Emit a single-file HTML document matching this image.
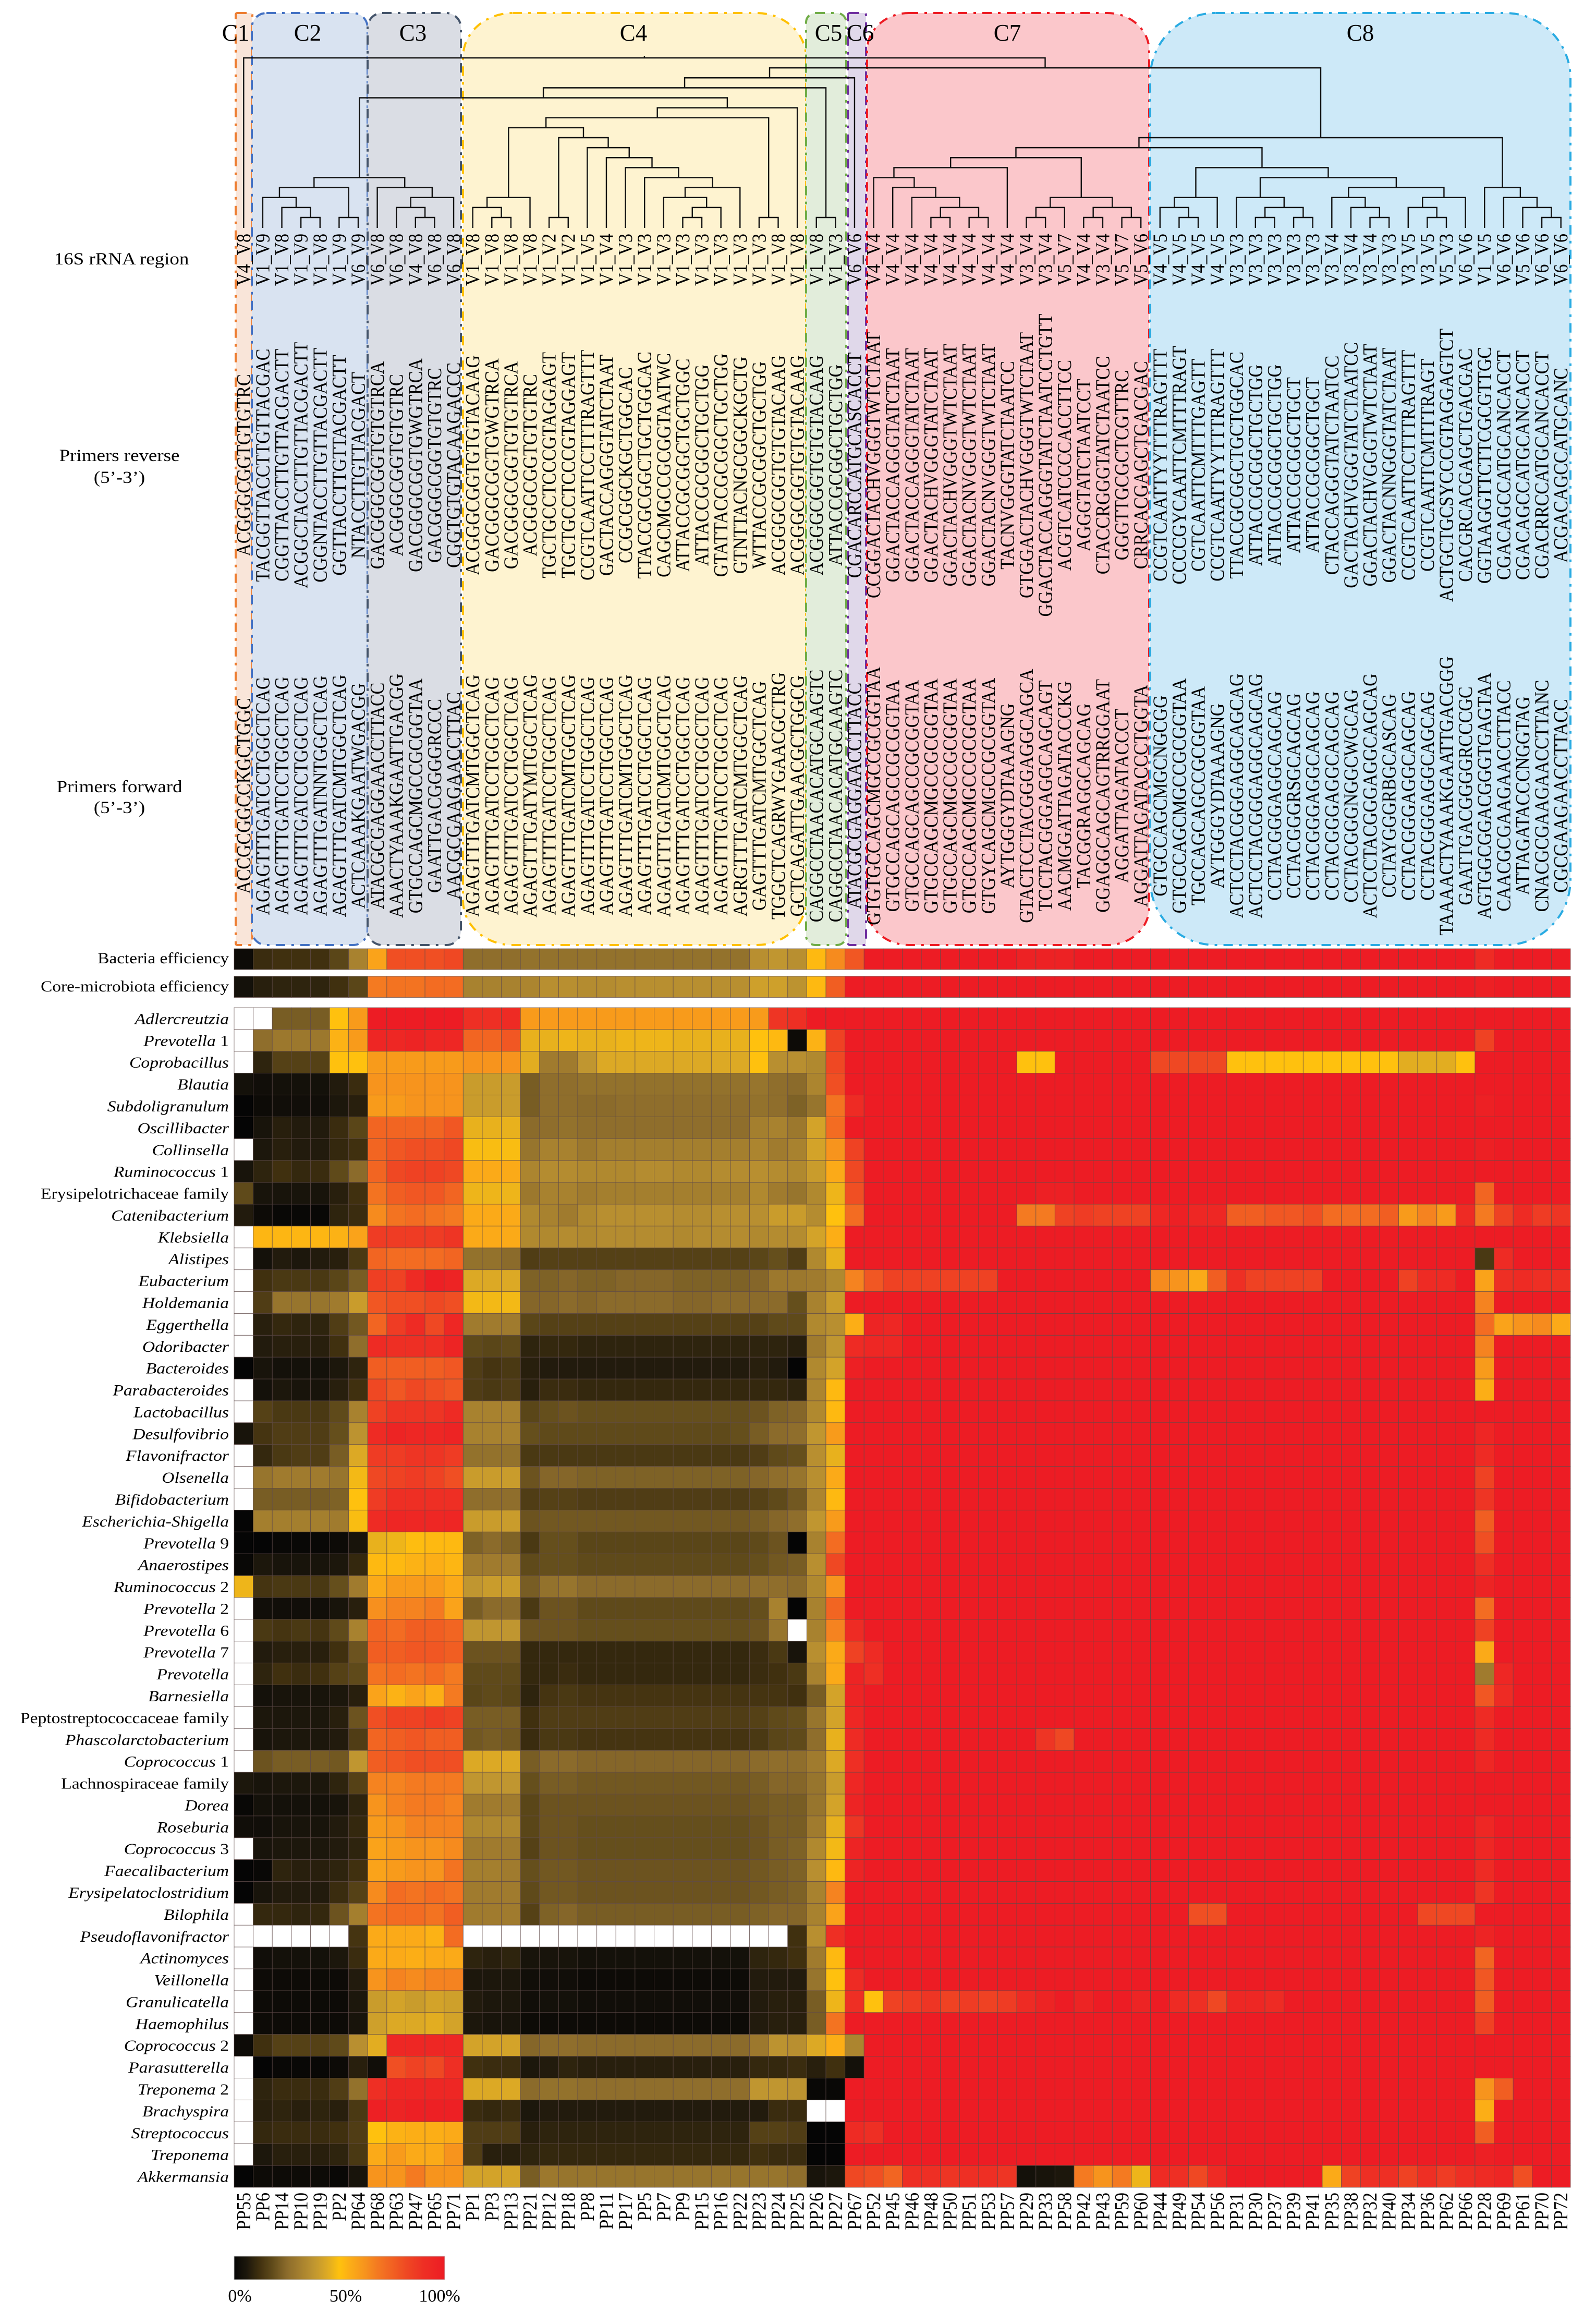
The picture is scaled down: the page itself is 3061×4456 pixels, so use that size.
<!DOCTYPE html>
<html lang="en">
<head>
<meta charset="utf-8">
<title>16S rRNA primer pair clustering heatmap</title>
<style>
html,body{margin:0;padding:0;background:#fff;width:3061px;height:4456px;overflow:hidden}
svg{display:block}
text{font-family:"Liberation Serif","Times New Roman",serif;fill:#000}
</style>
</head>
<body>
<svg id="chart" xmlns="http://www.w3.org/2000/svg" width="3061" height="4456" viewBox="0 0 3061 4456">
  <rect x="0" y="0" width="3061" height="4456" fill="#ffffff"/>
  <g stroke-width="4" stroke="#ffffff" fill="none">
    <rect x="452" y="25" width="32" height="1787" rx="3" ry="3"/>
    <rect x="483" y="25" width="222" height="1787" rx="28" ry="28"/>
    <rect x="705" y="25" width="179" height="1787" rx="28" ry="28"/>
    <rect x="888" y="25" width="658" height="1787" rx="95" ry="85"/>
    <rect x="1546" y="25" width="77" height="1787" rx="18" ry="18"/>
    <rect x="1626" y="25" width="35" height="1787" rx="4" ry="4"/>
    <rect x="1663" y="25" width="541" height="1787" rx="80" ry="72"/>
    <rect x="2206" y="25" width="806" height="1787" rx="125" ry="125"/>
  </g>
  <g stroke-width="4" stroke-dasharray="18 12 5 12">
    <rect x="452" y="25" width="32" height="1787" rx="3" ry="3" fill="#F9E5D9" stroke="#ED7D31"/>
    <rect x="483" y="25" width="222" height="1787" rx="28" ry="28" fill="#D9E3F1" stroke="#4472C4"/>
    <rect x="705" y="25" width="179" height="1787" rx="28" ry="28" fill="#DADDE4" stroke="#44546A"/>
    <rect x="888" y="25" width="658" height="1787" rx="95" ry="85" fill="#FEF3D0" stroke="#FFC000"/>
    <rect x="1546" y="25" width="77" height="1787" rx="18" ry="18" fill="#E2EDDB" stroke="#70AD47"/>
    <rect x="1626" y="25" width="35" height="1787" rx="4" ry="4" fill="#E0D8EA" stroke="#7030A0"/>
    <rect x="1663" y="25" width="541" height="1787" rx="80" ry="72" fill="#FBC7CB" stroke="#ED1C24"/>
    <rect x="2206" y="25" width="806" height="1787" rx="125" ry="125" fill="#CDE9F8" stroke="#29ABE2"/>
  </g>
  <g font-size="45" text-anchor="middle">
    <text x="452" y="78">C1</text>
    <text x="590" y="78">C2</text>
    <text x="792" y="78">C3</text>
    <text x="1215" y="78">C4</text>
    <text x="1589" y="78">C5</text>
    <text x="1650" y="78">C6</text>
    <text x="1932" y="78">C7</text>
    <text x="2609" y="78">C8</text>
  </g>
  <g id="dendrogram" fill="none" stroke="#111" stroke-width="2.4"></g>
  <g font-size="33" text-anchor="middle">
    <text transform="translate(233,507) scale(1.12,1)">16S rRNA region</text>
    <text transform="translate(229,884) scale(1.12,1)">Primers reverse</text>
    <text transform="translate(229,926) scale(1.12,1)">(5’-3’)</text>
    <text transform="translate(229,1519) scale(1.12,1)">Primers forward</text>
    <text transform="translate(229,1559) scale(1.12,1)">(5’-3’)</text>
  </g>
  <g font-size="30" text-anchor="end">
    <text transform="translate(439,1847) scale(1.11,1)">Bacteria efficiency</text>
    <text transform="translate(439,1901) scale(1.11,1)">Core-microbiota efficiency</text>
  </g>
  <g id="regionText"></g>
  <g id="reverseText"></g>
  <g id="forwardText"></g>
  <g id="efficiency"></g>
  <g id="heatmap"></g>
  <g id="rowText"></g>
  <g id="colText"></g>
  <defs>
    <linearGradient id="legendGradient" x1="0" y1="0" x2="1" y2="0"></linearGradient>
  </defs>
  <g>
    <rect x="449" y="4326" width="404" height="45" fill="url(#legendGradient)" stroke="#bbb" stroke-width="1"/>
    <text x="460" y="4413" font-size="34" text-anchor="middle">0%</text>
    <text x="663" y="4413" font-size="34" text-anchor="middle">50%</text>
    <text x="843" y="4413" font-size="34" text-anchor="middle">100%</text>
  </g>
</svg>
<script>
const N = null;

const columnLabels = ["PP55","PP6","PP14","PP10","PP19","PP2","PP64","PP68","PP63","PP47","PP65","PP71","PP1","PP3","PP13","PP21","PP12","PP18","PP8","PP11","PP17","PP5","PP7","PP9","PP15","PP16","PP22","PP23","PP24","PP25","PP26","PP27","PP67","PP52","PP45","PP46","PP48","PP50","PP51","PP53","PP57","PP29","PP33","PP58","PP42","PP43","PP59","PP60","PP44","PP49","PP54","PP56","PP31","PP30","PP37","PP39","PP41","PP35","PP38","PP32","PP40","PP34","PP36","PP62","PP66","PP28","PP69","PP61","PP70","PP72"];

const regionLabels = ["V4_V8","V1_V9","V1_V8","V1_V9","V1_V8","V1_V9","V6_V9","V6_V8","V6_V8","V4_V8","V6_V8","V6_V8","V1_V8","V1_V8","V1_V8","V1_V8","V1_V2","V1_V2","V1_V5","V1_V4","V1_V3","V1_V3","V1_V3","V1_V3","V1_V3","V1_V3","V1_V3","V1_V3","V1_V8","V1_V8","V1_V8","V1_V3","V6_V6","V4_V4","V4_V4","V4_V4","V4_V4","V4_V4","V4_V4","V4_V4","V4_V4","V3_V4","V3_V4","V5_V7","V4_V4","V3_V4","V5_V7","V5_V6","V4_V5","V4_V5","V4_V5","V4_V5","V3_V3","V3_V3","V3_V3","V3_V3","V3_V3","V3_V4","V3_V4","V3_V4","V3_V3","V3_V5","V3_V5","V5_V3","V6_V6","V1_V5","V6_V6","V5_V6","V6_V6","V6_V6"];

const primersReverse = ["ACGGGCGGTGTGTRC","TACGGTTACCTTGTTACGAC","CGGTTACCTTGTTACGACTT","ACGGCTACCTTGTTACGACTT","CGGNTACCTTGTTACGACTT","GGTTACCTTGTTACGACTT","NTACCTTGTTACGACT","GACGGGCGGTGTGTRCA","ACGGGCGGTGTGTRC","GACGGGCGGTGWGTRCA","GACGGGCGGTGTGTRC","CGGTGTGTACAAGACCC","ACGGGCGGTGTGTACAAG","GACGGGCGGTGWGTRCA","GACGGGCGGTGTGTRCA","ACGGGCGGTGTGTRC","TGCTGCCTCCCGTAGGAGT","TGCTGCCTCCCGTAGGAGT","CCGTCAATTCCTTTRAGTTT","GACTACCAGGGTATCTAAT","CCGCGGCKGCTGGCAC","TTACCGCGGCTGCTGGCAC","CAGCMGCCGCGGTAATWC","ATTACCGCGGCTGCTGGC","ATTACCGCGGCTGCTGG","GTATTACCGCGGCTGCTGG","GTNTTACNGCGGCKGCTG","WTTACCGCGGCTGCTGG","ACGGGCGGTGTGTACAAG","ACGGGCGGTGTGTACAAG","ACGGGCGGTGTGTACAAG","ATTACCGCGGCTGCTGG","CGACARCCATGCASCACCT","CCGGACTACHVGGGTWTCTAAT","GGACTACCAGGGTATCTAAT","GGACTACCAGGGTATCTAAT","GGACTACHVGGGTATCTAAT","GGACTACHVGGGTWTCTAAT","GGACTACNVGGGTWTCTAAT","GGACTACNVGGGTWTCTAAT","TACNVGGGTATCTAATCC","GTGGACTACHVGGGTWTCTAAT","GGACTACCAGGGTATCTAATCCTGTT","ACGTCATCCCCACCTTCC","AGGGTATCTAATCCT","CTACCRGGGTATCTAATCC","GGGTTGCGCTCGTTRC","CRRCACGAGCTGACGAC","CCGTCAATTYYTTTRAGTTT","CCCCGYCAATTCMTTTRAGT","CGTCAATTCMTTTGAGTT","CCGTCAATTYYTTTRAGTTT","TTACCGCGGCTGCTGGCAC","ATTACCGCGGCTGCTGG","ATTACCGCGGCTGCTGG","ATTACCGCGGCTGCT","ATTACCGCGGCTGCT","CTACCAGGGTATCTAATCC","GACTACHVGGGTATCTAATCC","GGACTACHVGGGTWTCTAAT","GGACTACNNGGGTATCTAAT","CCGTCAATTCCTTTRAGTTT","CCGTCAATTCMTTTRAGT","ACTGCTGCSYCCCGTAGGAGTCT","CACGRCACGAGCTGACGAC","GGTAAGGTTCTTCGCGTTGC","CGACAGCCATGCANCACCT","CGACAGCCATGCANCACCT","CGACRRCCATGCANCACCT","ACGACAGCCATGCANC"];

const primersForward = ["ACCGCGGCCKGCTGGC","AGAGTTTGATCCTGGCTCAG","AGAGTTTGATCCTGGCTCAG","AGAGTTTGATCCTGGCTCAG","AGAGTTTGATNNTGGCTCAG","AGAGTTTGATCMTGGCTCAG","ACTCAAAKGAATWGACGG","ATACGCGAGGAACCTTACC","AAACTYAAAKGAATTGACGG","GTGCCAGCMGCCGCGGTAA","GAATTGACGGGGRCCC","AACGCGAAGAACCTTAC","AGAGTTTGATCMTGGCTCAG","AGAGTTTGATCCTGGCTCAG","AGAGTTTGATCCTGGCTCAG","AGAGTTTGATYMTGGCTCAG","AGAGTTTGATCCTGGCTCAG","AGAGTTTGATCMTGGCTCAG","AGAGTTTGATCCTGGCTCAG","AGAGTTTGATCCTGGCTCAG","AGAGTTTGATCMTGGCTCAG","AGAGTTTGATCCTGGCTCAG","AGAGTTTGATCMTGGCTCAG","AGAGTTTGATCCTGGCTCAG","AGAGTTTGATCCTGGCTCAG","AGAGTTTGATCCTGGCTCAG","AGRGTTTGATCMTGGCTCAG","GAGTTTGATCMTGGCTCAG","TGGCTCAGRWYGAACGCTRG","GCTCAGATTGAACGCTGGCG","CAGGCCTAACACATGCAAGTC","CAGGCCTAACACATGCAAGTC","ATACGCGAGGAACCTTACC","GTGTGCCAGCMGCCGCGGTAA","GTGCCAGCAGCCGCGGTAA","GTGCCAGCAGCCGCGGTAA","GTGCCAGCMGCCGCGGTAA","GTGCCAGCMGCCGCGGTAA","GTGCCAGCMGCCGCGGTAA","GTGYCAGCMGCCGCGGTAA","AYTGGGYDTAAAGNG","GTACTCCTACGGGAGGCAGCA","TCCTACGGGAGGCAGCAGT","AACMGGATTAGATACCCKG","TACGGRAGGCAGCAG","GGAGGCAGCAGTRRGGAAT","AGGATTAGATACCCT","AGGATTAGATACCCTGGTA","GTGCCAGCMGCNGCGG","GTGCCAGCMGCCGCGGTAA","TGCCAGCAGCCGCGGTAA","AYTGGGYDTAAAGNG","ACTCCTACGGGAGGCAGCAG","ACTCCTACGGGAGGCAGCAG","CCTACGGGAGGCAGCAG","CCTACGGGRSGCAGCAG","CCTACGGGAGGCAGCAG","CCTACGGGAGGCAGCAG","CCTACGGGNGGCWGCAG","ACTCCTACGGGAGGCAGCAG","CCTAYGGGRBGCASCAG","CCTACGGGAGGCAGCAG","CCTACGGGAGGCAGCAG","TAAAACTYAAAKGAATTGACGGG","GAATTGACGGGGRCCCGC","AGTGGCGGACGGGTGAGTAA","CAACGCGAAGAACCTTACC","ATTAGATACCCNGGTAG","CNACGCGAAGAACCTTANC","CGCGAAGAACCTTACC"];

const rowLabels = ["Adlercreutzia","Prevotella 1","Coprobacillus","Blautia","Subdoligranulum","Oscillibacter","Collinsella","Ruminococcus 1","Erysipelotrichaceae family","Catenibacterium","Klebsiella","Alistipes","Eubacterium","Holdemania","Eggerthella","Odoribacter","Bacteroides","Parabacteroides","Lactobacillus","Desulfovibrio","Flavonifractor","Olsenella","Bifidobacterium","Escherichia-Shigella","Prevotella 9","Anaerostipes","Ruminococcus 2","Prevotella 2","Prevotella 6","Prevotella 7","Prevotella","Barnesiella","Peptostreptococcaceae family","Phascolarctobacterium","Coprococcus 1","Lachnospiraceae family","Dorea","Roseburia","Coprococcus 3","Faecalibacterium","Erysipelatoclostridium","Bilophila","Pseudoflavonifractor","Actinomyces","Veillonella","Granulicatella","Haemophilus","Coprococcus 2","Parasutterella","Treponema 2","Brachyspira","Streptococcus","Treponema","Akkermansia"];

const bacteriaEfficiency = [2,11,12,12,12,17,32,58,80,80,80,82,26,26,26,27,27,27,27,27,27,27,27,27,27,27,27,36,38,36,52,64,78,100,100,100,100,100,100,100,100,97,97,97,100,100,100,100,100,100,100,100,100,100,100,100,100,100,100,100,100,100,100,100,100,92,100,100,100,100];

const coreEfficiency = [4,8,9,9,9,12,17,68,70,70,72,72,32,32,32,33,36,36,35,35,36,36,36,36,36,36,36,41,41,37,52,76,100,100,100,100,100,100,100,100,100,100,100,100,100,100,100,100,100,100,100,100,100,100,100,100,100,100,100,100,100,100,100,100,100,98,100,100,100,100];

const heatValues = [
[N,N,22,22,22,50,60,100,100,100,100,100,90,90,92,60,60,60,60,60,60,60,60,60,60,60,60,60,88,90,100,100,100,100,100,100,100,100,100,100,100,100,100,100,100,100,100,100,100,100,100,100,100,100,100,100,100,100,100,100,100,100,100,100,100,100,100,100,100,100],
[N,26,29,29,29,54,60,95,94,96,94,94,74,74,78,46,46,47,46,46,47,47,47,46,46,46,46,50,52,2,54,84,100,100,100,100,100,100,100,100,100,100,100,100,100,100,100,100,100,100,100,100,100,100,100,100,100,100,100,100,100,100,100,100,100,84,100,100,100,100],
[N,9,16,16,16,50,50,60,60,60,60,60,62,62,62,45,30,30,38,44,44,44,44,44,44,44,44,50,36,36,34,82,100,100,100,100,100,100,100,100,100,50,50,100,100,100,100,100,82,82,82,82,50,50,50,50,50,50,50,50,50,45,45,45,50,100,100,100,100,100],
[4,3,4,4,4,7,11,62,62,62,62,62,40,40,40,22,26,26,27,27,27,27,27,27,27,27,27,28,26,25,33,80,100,100,100,100,100,100,100,100,100,100,100,100,100,100,100,100,100,100,100,100,100,100,100,100,100,100,100,100,100,100,100,100,100,100,100,100,100,100],
[0,2,3,3,3,6,8,60,60,62,62,62,40,40,40,22,26,26,25,25,26,26,26,26,26,26,26,27,26,23,28,70,92,100,100,100,100,100,100,100,100,100,100,100,100,100,100,100,100,100,100,100,100,100,100,100,100,100,100,100,100,100,100,100,100,98,100,100,100,100],
[0,5,8,7,7,11,17,74,74,74,74,78,46,46,46,25,26,27,26,26,26,26,26,26,26,26,26,31,32,29,42,72,100,100,100,100,100,100,100,100,100,100,100,100,100,100,100,100,100,100,100,100,100,100,100,100,100,100,100,100,100,100,100,100,100,100,100,100,100,100],
[N,6,8,7,7,10,12,74,78,80,80,82,49,49,49,28,32,32,29,31,31,31,31,31,31,31,31,33,30,32,42,62,84,100,100,100,100,100,100,100,100,100,100,100,100,100,100,100,100,100,100,100,100,100,100,100,100,100,100,100,100,100,100,100,100,98,100,100,100,100],
[5,9,12,10,11,18,25,74,82,84,84,82,56,56,56,33,35,35,34,34,34,35,35,34,34,35,35,36,35,34,40,56,82,100,100,100,100,100,100,100,100,100,100,100,100,100,100,100,100,100,100,100,100,100,100,100,100,100,100,100,100,100,100,100,100,100,100,100,100,100],
[18,5,5,5,5,8,12,70,76,78,78,74,47,47,47,29,32,32,30,31,31,31,31,31,31,31,31,34,30,28,34,47,80,100,100,100,100,100,100,100,100,100,98,98,100,100,100,100,100,100,100,100,100,100,100,100,100,100,100,100,100,100,100,100,100,74,100,100,100,100],
[7,2,1,1,1,9,11,64,70,72,70,68,56,56,56,34,32,30,34,36,36,36,36,35,35,36,36,36,40,40,35,50,72,100,100,100,100,100,100,100,100,68,68,84,86,84,84,84,94,98,94,94,76,76,78,78,80,72,72,72,76,60,66,60,92,68,84,92,86,88],
[N,53,53,53,53,54,58,86,86,86,86,88,56,56,56,34,34,35,34,35,35,35,35,34,35,35,35,34,35,35,42,55,100,100,100,100,100,100,100,100,100,100,100,100,100,100,100,100,100,100,100,100,100,100,100,100,100,100,100,100,100,100,100,100,100,100,100,100,100,100],
[N,4,7,6,7,8,14,74,72,72,72,74,27,27,25,15,16,16,16,16,16,16,16,16,16,16,16,17,19,15,34,46,100,100,100,100,100,100,100,100,100,100,100,100,100,100,100,100,100,100,100,100,100,100,100,100,100,100,100,100,100,100,100,100,100,14,92,100,100,100],
[N,12,14,14,14,17,22,85,84,92,98,96,44,44,44,23,23,24,23,23,24,24,24,23,23,23,23,24,29,29,30,34,66,78,84,84,84,84,84,84,100,100,100,100,100,100,100,100,64,62,56,76,90,84,84,84,84,100,100,100,100,84,92,92,100,58,90,92,90,90],
[N,15,28,28,28,30,40,78,80,80,82,80,48,48,48,24,24,25,24,25,25,25,25,24,24,25,25,25,25,19,32,40,100,100,100,100,100,100,100,100,100,100,100,100,100,100,100,100,100,100,100,100,100,100,100,100,100,100,100,100,100,100,100,100,100,66,100,100,100,100],
[N,8,10,9,9,15,21,74,86,92,82,94,30,30,30,17,16,16,16,16,16,16,16,16,16,16,16,16,18,18,34,36,55,96,94,100,100,100,100,100,100,100,100,100,100,100,100,100,100,100,100,100,100,100,100,100,100,100,100,100,100,100,100,100,100,72,58,62,64,56],
[N,7,8,8,8,12,26,92,90,90,90,96,18,17,18,9,10,10,9,9,9,9,9,9,9,9,9,9,9,8,30,38,92,94,94,100,100,100,100,100,100,100,100,100,100,100,100,100,100,100,100,100,100,100,100,100,100,100,100,100,100,100,100,100,100,66,100,100,100,100],
[0,5,4,4,4,6,9,76,76,76,76,78,15,13,14,8,7,7,7,7,7,7,7,7,7,7,7,8,7,0,34,42,98,100,100,100,100,100,100,100,100,100,100,100,100,100,100,100,100,100,100,100,100,100,100,100,100,100,100,100,100,100,100,100,100,60,100,100,100,100],
[N,4,6,5,5,8,12,82,78,82,80,78,15,14,15,8,11,11,10,10,10,10,10,10,10,10,10,10,10,9,33,52,100,100,100,100,100,100,100,100,100,100,100,100,100,100,100,100,100,100,100,100,100,100,100,100,100,100,100,100,100,100,100,100,100,55,100,100,100,100],
[N,16,14,14,14,18,32,84,88,88,88,92,32,32,32,17,19,20,19,19,19,19,19,19,19,19,19,20,23,24,34,52,100,100,100,100,100,100,100,100,100,100,100,100,100,100,100,100,100,100,100,100,100,100,100,100,100,100,100,100,100,100,100,100,100,100,100,100,100,100],
[5,13,15,15,15,19,37,92,96,94,94,96,32,32,32,19,18,18,18,18,18,18,18,18,18,18,19,22,25,26,38,60,100,100,100,100,100,100,100,100,100,100,100,100,100,100,100,100,100,100,100,100,100,100,100,100,100,100,100,100,100,100,100,100,100,95,100,100,100,100],
[N,10,14,15,15,22,44,86,86,88,88,86,27,27,27,14,14,14,14,14,14,14,14,14,14,14,14,15,18,19,36,46,100,100,100,100,100,100,100,100,100,100,100,100,100,100,100,100,100,100,100,100,100,100,100,100,100,100,100,100,100,100,100,100,100,92,100,100,100,100],
[N,28,30,30,30,28,48,82,84,86,84,80,40,40,40,20,24,24,23,23,23,23,23,23,23,23,23,24,26,28,36,56,100,100,100,100,100,100,100,100,100,100,100,100,100,100,100,100,100,100,100,100,100,100,100,100,100,100,100,100,100,100,100,100,100,84,100,100,100,100],
[N,22,22,22,22,23,50,86,90,90,90,90,26,26,26,15,16,16,15,15,15,15,15,15,15,15,15,16,18,21,33,52,100,100,100,100,100,100,100,100,100,100,100,100,100,100,100,100,100,100,100,100,100,100,100,100,100,100,100,100,100,100,100,100,100,88,100,100,100,100],
[0,31,31,31,31,30,49,92,95,94,94,95,40,40,40,20,21,21,21,21,21,21,21,21,21,21,21,22,24,26,38,60,100,100,100,100,100,100,100,100,100,100,100,100,100,100,100,100,100,100,100,100,100,100,100,100,100,100,100,100,100,100,100,100,100,76,100,100,100,100],
[0,0,1,1,1,2,5,46,47,51,52,52,23,25,23,14,19,19,17,17,17,17,17,17,17,17,17,18,20,0,32,72,100,100,100,100,100,100,100,100,100,100,100,100,100,100,100,100,100,100,100,100,100,100,100,100,100,100,100,100,100,100,100,100,100,80,100,100,100,100],
[1,6,5,5,5,6,10,52,52,54,55,53,30,30,30,18,19,19,18,18,18,18,18,18,18,18,18,19,21,22,36,82,100,100,100,100,100,100,100,100,100,100,100,100,100,100,100,100,100,100,100,100,100,100,100,100,100,100,100,100,100,100,100,100,100,90,100,100,100,100],
[47,13,14,14,14,19,30,56,60,60,60,56,38,40,40,22,27,28,25,25,25,25,25,25,25,25,25,26,26,25,34,62,100,100,100,100,100,100,100,100,100,100,100,100,100,100,100,100,100,100,100,100,100,100,100,100,100,100,100,100,100,100,100,100,100,96,100,100,100,100],
[N,3,3,3,3,5,8,63,66,66,68,58,22,25,25,14,20,20,18,18,18,18,18,18,18,18,18,19,32,0,32,74,100,100,100,100,100,100,100,100,100,100,100,100,100,100,100,100,100,100,100,100,100,100,100,100,100,100,100,100,100,100,100,100,100,72,100,100,100,100],
[N,14,13,14,13,18,32,74,72,76,76,74,38,38,38,20,20,20,19,19,19,19,19,19,19,19,19,20,28,N,32,66,92,100,100,100,100,100,100,100,100,100,100,100,100,100,100,100,100,100,100,100,100,100,100,100,100,100,100,100,100,100,100,100,100,84,100,100,100,100],
[N,7,8,8,8,12,20,76,76,78,78,76,20,20,20,10,10,10,10,10,10,10,10,10,10,10,10,11,14,5,36,56,84,92,100,100,100,100,100,100,100,100,100,100,100,100,100,100,100,100,100,100,100,100,100,100,100,100,100,100,100,100,100,100,100,56,100,100,100,100],
[N,9,12,11,12,16,18,70,72,70,72,68,18,18,18,10,10,11,10,10,10,10,10,10,10,10,10,11,12,14,32,56,96,90,100,100,100,100,100,100,100,100,100,100,100,100,100,100,100,100,100,100,100,100,100,100,100,100,100,100,100,100,100,100,100,30,94,100,100,100],
[N,4,5,5,5,6,8,58,54,58,55,68,17,18,17,9,13,14,13,13,13,13,13,13,13,13,13,13,13,12,22,42,96,100,100,100,100,100,100,100,100,100,100,100,100,100,100,100,100,100,100,100,100,100,100,100,100,100,100,100,100,100,100,100,100,78,92,100,100,100],
[N,6,6,6,6,8,20,80,84,84,86,84,22,22,22,12,15,15,15,15,15,15,15,15,15,15,15,16,18,19,28,42,94,100,100,100,100,100,100,100,100,100,100,100,100,100,100,100,100,100,100,100,100,100,100,100,100,100,100,100,100,100,100,100,100,92,100,100,100,100],
[N,5,6,6,6,7,15,74,76,78,76,76,21,22,21,11,14,14,13,13,13,13,13,13,13,13,13,14,17,18,26,46,92,100,100,100,100,100,100,100,100,100,88,82,100,100,100,100,100,100,100,100,100,100,100,100,100,100,100,100,100,100,100,100,100,92,100,100,100,100],
[N,20,22,22,22,21,38,76,78,80,80,80,44,44,44,22,25,25,24,24,24,24,24,24,24,24,24,25,26,26,30,44,90,100,100,100,100,100,100,100,100,100,100,100,100,100,100,100,100,100,100,100,100,100,100,100,100,100,100,100,100,100,100,100,100,94,100,100,100,100],
[6,5,6,6,6,9,16,66,66,68,68,68,38,38,38,19,22,22,21,21,21,21,21,21,21,21,21,22,24,24,28,40,94,100,100,100,100,100,100,100,100,100,100,100,100,100,100,100,100,100,100,100,100,100,100,100,100,100,100,100,100,100,100,100,100,100,100,100,100,100],
[1,4,4,4,4,5,9,62,66,68,68,66,30,30,30,17,20,20,20,20,20,20,20,20,20,20,20,21,22,22,28,42,96,100,100,100,100,100,100,100,100,100,100,100,100,100,100,100,100,100,100,100,100,100,100,100,100,100,100,100,100,100,100,100,100,100,100,100,100,100],
[3,3,5,5,5,7,10,60,62,66,66,66,34,34,34,17,20,20,19,19,19,19,19,19,19,19,19,20,22,22,30,46,88,100,100,100,100,100,100,100,100,100,100,100,100,100,100,100,100,100,100,100,100,100,100,100,100,100,100,100,100,100,100,100,100,94,100,100,100,100],
[N,5,6,6,6,7,9,58,60,62,62,64,30,30,30,16,20,20,19,19,19,19,19,19,19,19,19,20,22,23,34,48,96,100,100,100,100,100,100,100,100,100,100,100,100,100,100,100,100,100,100,100,100,100,100,100,100,100,100,100,100,100,100,100,100,94,100,100,100,100],
[0,1,9,8,8,9,12,58,60,62,62,70,31,31,30,19,21,21,20,20,20,20,20,20,20,20,20,21,22,23,36,52,96,100,100,100,100,100,100,100,100,100,100,100,100,100,100,100,100,100,100,100,100,100,100,100,100,100,100,100,100,100,100,100,100,92,100,100,100,100],
[0,5,7,7,7,11,16,64,72,70,72,70,30,30,30,18,21,21,20,20,20,20,20,20,20,20,20,21,22,23,32,66,100,100,100,100,100,100,100,100,100,100,100,100,100,100,100,100,100,100,100,100,100,100,100,100,100,100,100,100,100,100,100,100,100,88,100,100,100,100],
[N,10,10,9,10,20,31,70,72,72,70,76,30,30,30,16,23,24,22,22,22,22,22,22,22,22,22,23,24,24,32,58,100,100,100,100,100,100,100,100,100,100,100,100,100,100,100,100,100,100,80,80,100,100,100,100,100,100,100,100,100,100,82,82,82,100,100,100,100,100],
[N,N,N,N,N,N,13,56,56,56,54,72,N,N,N,N,N,N,N,N,N,N,N,N,N,N,N,N,N,12,36,90,100,100,100,100,100,100,100,100,100,100,100,100,100,100,100,100,100,100,100,100,100,100,100,100,100,100,100,100,100,100,100,100,100,96,100,100,100,100],
[N,3,4,4,4,6,11,56,56,55,56,56,9,8,9,5,5,5,4,4,4,4,4,4,4,4,4,9,10,12,30,52,100,100,100,100,100,100,100,100,100,100,100,100,100,100,100,100,100,100,100,100,100,100,100,100,100,100,100,100,100,100,100,100,100,74,100,100,100,100],
[N,2,2,2,2,2,7,62,66,64,66,66,6,6,6,3,3,3,2,2,2,2,2,2,2,2,2,7,7,7,28,50,92,100,100,100,100,100,100,100,100,100,100,100,100,100,100,100,100,100,100,100,100,100,100,100,100,100,100,100,100,100,100,100,100,78,100,100,100,100],
[N,2,2,2,2,2,6,40,42,40,42,41,7,6,6,3,4,4,3,3,3,3,3,3,3,3,3,7,8,8,22,47,90,50,84,86,88,84,86,84,86,92,96,100,96,100,100,96,100,92,90,82,94,94,92,100,100,100,100,100,100,100,100,100,100,76,100,100,100,100],
[N,2,2,2,2,2,5,41,44,44,45,42,6,5,5,2,2,2,2,2,2,2,2,2,2,2,2,7,8,8,22,70,100,100,100,100,100,100,100,100,100,100,100,100,100,100,100,100,100,100,100,100,100,100,100,100,100,100,100,100,100,100,100,100,100,84,100,100,100,100],
[2,12,16,16,16,18,36,45,94,94,94,94,42,42,42,24,26,26,25,25,25,25,25,25,25,25,25,29,37,36,44,55,33,100,100,100,100,100,100,100,100,100,100,100,100,100,100,100,100,100,100,100,100,100,100,100,100,100,100,100,100,100,100,100,100,100,100,100,100,100],
[N,0,1,1,1,2,8,3,80,84,82,90,12,11,11,6,7,9,8,8,8,8,8,8,8,8,8,10,10,11,8,12,4,100,100,100,100,100,100,100,100,100,100,100,100,100,100,100,100,100,100,100,100,100,100,100,100,100,100,100,100,100,100,100,100,100,100,100,100,100],
[N,9,11,11,11,15,27,90,94,94,94,94,44,44,44,25,27,27,26,26,26,26,26,26,26,26,26,38,38,37,1,1,100,100,100,100,100,100,100,100,100,100,100,100,100,100,100,100,100,100,100,100,100,100,100,100,100,100,100,100,100,100,100,100,100,62,76,100,100,100],
[N,8,9,8,9,8,14,98,96,98,98,98,11,10,11,6,7,7,7,7,7,7,7,7,7,7,7,7,11,11,N,N,100,100,100,100,100,100,100,100,100,100,100,100,100,100,100,100,100,100,100,100,100,100,100,100,100,100,100,100,100,100,100,100,100,55,100,100,100,100],
[N,10,11,11,11,12,15,50,54,55,55,56,15,15,15,8,9,9,9,9,9,9,9,9,9,9,9,16,16,15,0,0,92,90,100,100,100,100,100,100,100,100,100,100,100,100,100,100,100,100,100,100,100,100,100,100,100,100,100,100,100,100,100,100,100,76,100,100,100,100],
[N,6,8,8,8,9,14,56,60,56,56,62,15,8,8,9,10,10,10,10,10,10,10,10,10,10,10,12,11,11,0,0,100,100,100,100,100,100,100,100,100,100,100,100,100,100,100,100,100,100,100,100,100,100,100,100,100,100,100,100,100,100,100,100,100,98,100,100,100,100],
[0,2,2,2,2,1,5,62,62,68,62,62,42,42,42,22,29,28,28,28,28,28,28,28,28,28,28,28,28,26,5,6,82,80,74,90,90,88,90,90,88,4,5,6,68,62,68,47,92,90,82,92,100,100,100,100,100,56,84,90,90,84,90,86,90,92,95,80,100,100]
];

const mergeTree = [17,0,[16,[15,[14,[13,[5,[4,[3,1,[2,2,[1,3,4]]],[1,5,6]],[4,7,[3,[2,8,[1,9,10]],11]]],[12,[11,[10,[3,[2,12,[1,13,14]],15],[9,[1,16,17],[8,18,[7,19,[6,20,[5,21,[4,[3,22,[2,[1,23,24],25]],26]]]]]]],[1,27,28]],29]],[1,30,31]],32],[9,[8,[7,[6,[5,33,[4,34,[3,35,[2,[1,36,37],[1,38,39]]]]],40],[3,[2,[1,41,42],43],[2,[1,44,45],[1,46,47]]]],[6,[3,[2,48,[1,49,50]],51],[5,[3,52,[2,[1,53,54],[1,55,56]]],[4,[3,57,[2,58,[1,59,60]]],[3,[2,61,[1,62,63]],64]]]]],[4,65,[3,66,[2,67,[1,68,69]]]]]]];

const colorStopValues = [0,6,12,18,25,32,38,44,50,56,62,68,74,82,90,100];
const colorStopColors = ["#050505","#1c170c","#40300f","#5f4a1a","#8b6b2b","#a8822f","#c09630","#dca925","#ffc10e","#fbaa18","#f7941d","#f47a21","#f26522","#ef4823","#ee2f24","#ed1c24"];

const SVG_NS = "http://www.w3.org/2000/svg";
const plotLeft = 449, cellW = 2563 / 70;
const plotTop = 1932, cellH = 2262 / 54;
const xCol = c => plotLeft + c * cellW;
const xCenter = c => plotLeft + (c + 0.5) * cellW;
const yRow = r => plotTop + r * cellH;
const yLevel = l => 417 - (l - 1) * 19.125;

function hexToRgb(h) {
  return [parseInt(h.slice(1, 3), 16), parseInt(h.slice(3, 5), 16), parseInt(h.slice(5, 7), 16)];
}
function colorFor(v) {
  if (v === null || v === undefined) return "#ffffff";
  const t = Math.max(0, Math.min(100, v));
  for (let i = 1; i < colorStopValues.length; i++) {
    if (t <= colorStopValues[i]) {
      const a = colorStopValues[i - 1], b = colorStopValues[i];
      const f = (t - a) / (b - a);
      const c0 = hexToRgb(colorStopColors[i - 1]), c1 = hexToRgb(colorStopColors[i]);
      const m = [0, 1, 2].map(k => Math.round(c0[k] + (c1[k] - c0[k]) * f));
      return "rgb(" + m.join(",") + ")";
    }
  }
  return colorStopColors[colorStopColors.length - 1];
}

function drawCell(parent, x, y, w, h, v) {
  const cell = document.createElementNS(SVG_NS, "rect");
  cell.setAttribute("x", x);
  cell.setAttribute("y", y);
  cell.setAttribute("width", w);
  cell.setAttribute("height", h);
  cell.setAttribute("fill", colorFor(v));
  cell.setAttribute("stroke", "#5f4a48");
  cell.setAttribute("stroke-opacity", "0.7");
  cell.setAttribute("stroke-width", "1");
  
  
  parent.appendChild(cell);
}

const heatGroup = document.getElementById("heatmap");
heatValues.forEach((row, r) => {
  row.forEach((v, c) => {
    drawCell(heatGroup, xCol(c), yRow(r), cellW, cellH, v);
  });
});

const effGroup = document.getElementById("efficiency");
bacteriaEfficiency.forEach((v, c) => {
  drawCell(effGroup, xCol(c), 1819, cellW, 40, v);
});
coreEfficiency.forEach((v, c) => {
  drawCell(effGroup, xCol(c), 1872, cellW, 40.5, v);
});

function verticalText(parent, str, c, y, anchor, name) {
  const t = document.createElementNS(SVG_NS, "text");
  t.setAttribute("transform", "translate(" + (xCenter(c) + 12.5) + "," + y + ") scale(1.13,1) rotate(-90)");
  t.setAttribute("text-anchor", anchor);
  t.setAttribute("font-size", "34");
  t.textContent = str;
  
  
  parent.appendChild(t);
}

const regionGroup = document.getElementById("regionText");
regionLabels.forEach((s, c) => verticalText(regionGroup, s, c, 498, "middle", "region-label"));
const reverseGroup = document.getElementById("reverseText");
primersReverse.forEach((s, c) => verticalText(reverseGroup, s, c, 892, "middle", "primer-reverse-label"));
const forwardGroup = document.getElementById("forwardText");
primersForward.forEach((s, c) => verticalText(forwardGroup, s, c, 1526, "middle", "primer-forward-label"));
const colGroup = document.getElementById("colText");
columnLabels.forEach((s, c) => verticalText(colGroup, s, c, 4204, "end", "primer-pair-label"));

const rowGroup = document.getElementById("rowText");
rowLabels.forEach((label, r) => {
  const t = document.createElementNS(SVG_NS, "text");
  t.setAttribute("transform", "translate(439," + (yRow(r) + cellH / 2 + 10.5) + ") scale(1.12,1)");
  t.setAttribute("text-anchor", "end");
  t.setAttribute("font-size", "30");
  
  
  const m = label.match(/^(.*) (\d)$/);
  if (/family$/.test(label)) {
    t.textContent = label;
  } else if (m) {
    const ts = document.createElementNS(SVG_NS, "tspan");
    ts.setAttribute("font-style", "italic");
    ts.textContent = m[1];
    t.appendChild(ts);
    t.appendChild(document.createTextNode(" " + m[2]));
  } else {
    t.setAttribute("font-style", "italic");
    t.textContent = label;
  }
  rowGroup.appendChild(t);
});

const dendroGroup = document.getElementById("dendrogram");
function drawNode(node) {
  if (typeof node === "number") {
    return { x: xCenter(node), y: 437 };
  }
  const left = drawNode(node[1]);
  const right = drawNode(node[2]);
  const y = yLevel(node[0]);
  const link = document.createElementNS(SVG_NS, "path");
  link.setAttribute("d", "M" + left.x + " " + left.y + "V" + y + "H" + right.x + "V" + right.y);
  
  
  dendroGroup.appendChild(link);
  return { x: (left.x + right.x) / 2, y: y };
}
const rootNode = drawNode(mergeTree);
const rootStem = document.createElementNS(SVG_NS, "path");
rootStem.setAttribute("d", "M" + rootNode.x + " " + rootNode.y + "V" + (rootNode.y - 4));


dendroGroup.appendChild(rootStem);

const gradient = document.getElementById("legendGradient");
colorStopValues.forEach((v, i) => {
  const stop = document.createElementNS(SVG_NS, "stop");
  stop.setAttribute("offset", v + "%");
  stop.setAttribute("stop-color", colorStopColors[i]);
  gradient.appendChild(stop);
});
</script>
</body>
</html>
